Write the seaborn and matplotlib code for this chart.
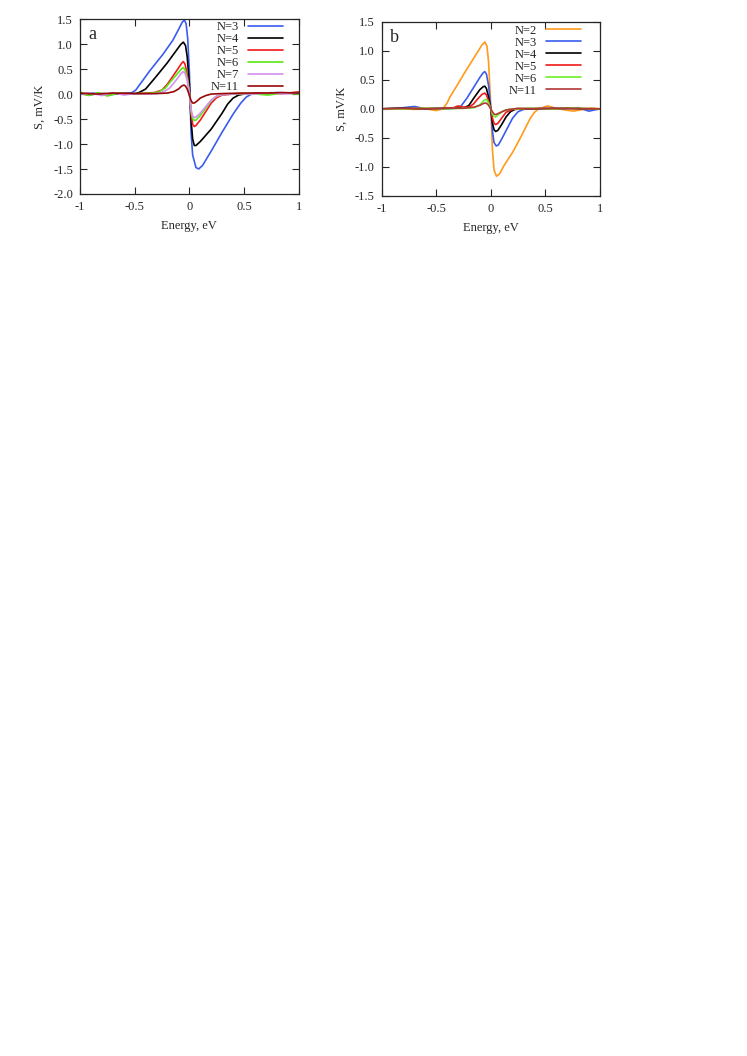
import numpy as np
import pandas as pd
import matplotlib
matplotlib.use('Agg')
import matplotlib.pyplot as plt
import seaborn as sns

sns.set_style('ticks')
plt.rcParams['font.family'] = ['Liberation Serif', 'DejaVu Serif']
plt.rcParams['xtick.direction'] = 'in'
plt.rcParams['ytick.direction'] = 'in'

# ---- panel a: key points ----
a_x3 = [-1, -0.88, -0.75, -0.62, -0.53, -0.49, -0.45, -0.36, -0.24, -0.15, -0.09, -0.065, -0.045, -0.03, -0.015, 0.0, 0.015, 0.03, 0.06, 0.085, 0.12, 0.2, 0.3, 0.4, 0.47, 0.52, 0.56, 0.62, 0.7, 0.8, 0.9, 1]
a_y3 = [0.0, 0.02, -0.02, 0.01, 0.02, 0.08, 0.2, 0.47, 0.8, 1.08, 1.33, 1.44, 1.48, 1.41, 1.11, 0.45, -0.75, -1.22, -1.47, -1.5, -1.43, -1.14, -0.76, -0.4, -0.18, -0.06, -0.01, 0.02, 0.01, 0.03, 0.02, 0.03]
a_x4 = [-1, -0.9, -0.8, -0.7, -0.6, -0.5, -0.46, -0.4, -0.3, -0.2, -0.12, -0.08, -0.055, -0.035, -0.02, 0.0, 0.015, 0.03, 0.045, 0.06, 0.1, 0.2, 0.3, 0.35, 0.4, 0.45, 0.5, 0.6, 0.7, 0.85, 1]
a_y4 = [0.0, -0.01, 0.01, 0.0, 0.01, 0.01, 0.03, 0.1, 0.36, 0.63, 0.87, 0.99, 1.04, 0.97, 0.75, 0.2, -0.5, -0.9, -1.03, -1.03, -0.95, -0.7, -0.38, -0.2, -0.08, -0.02, 0.0, 0.01, 0.01, 0.02, 0.03]
a_x5 = [-1, -0.92, -0.84, -0.76, -0.68, -0.6, -0.5, -0.4, -0.32, -0.25, -0.2, -0.15, -0.1, -0.07, -0.055, -0.04, -0.02, 0.0, 0.015, 0.03, 0.045, 0.06, 0.1, 0.15, 0.2, 0.25, 0.3, 0.4, 0.55, 0.7, 0.85, 0.95, 1]
a_y5 = [0.02, -0.02, 0.02, -0.02, 0.01, 0.01, 0.0, 0.02, 0.03, 0.08, 0.2, 0.36, 0.52, 0.62, 0.65, 0.6, 0.4, 0.05, -0.4, -0.6, -0.65, -0.63, -0.52, -0.35, -0.18, -0.07, -0.02, 0.0, 0.01, 0.02, 0.01, 0.03, 0.04]
a_x6 = [-1, -0.92, -0.83, -0.75, -0.65, -0.55, -0.45, -0.35, -0.28, -0.22, -0.16, -0.1, -0.07, -0.055, -0.04, -0.02, 0.0, 0.015, 0.03, 0.045, 0.06, 0.1, 0.15, 0.2, 0.25, 0.3, 0.45, 0.6, 0.72, 0.85, 1]
a_y6 = [0.04, -0.03, 0.03, -0.04, 0.02, 0.0, 0.01, 0.02, 0.04, 0.12, 0.28, 0.43, 0.51, 0.53, 0.49, 0.32, 0.03, -0.33, -0.49, -0.53, -0.52, -0.43, -0.28, -0.13, -0.04, -0.01, 0.01, 0.0, -0.02, 0.02, 0.0]
a_x7 = [-1, -0.9, -0.8, -0.7, -0.6, -0.5, -0.4, -0.3, -0.24, -0.18, -0.12, -0.08, -0.055, -0.04, -0.02, 0.0, 0.015, 0.03, 0.045, 0.06, 0.1, 0.15, 0.2, 0.25, 0.3, 0.45, 0.6, 0.75, 0.85, 1]
a_y7 = [0.0, 0.02, -0.03, 0.03, -0.02, 0.01, 0.0, 0.01, 0.04, 0.12, 0.28, 0.4, 0.45, 0.42, 0.28, 0.02, -0.3, -0.44, -0.47, -0.46, -0.38, -0.25, -0.12, -0.04, -0.01, 0.01, 0.0, 0.03, 0.0, 0.02]
a_x11 = [-1, -0.85, -0.7, -0.5, -0.3, -0.2, -0.14, -0.1, -0.07, -0.05, -0.035, -0.02, 0.0, 0.015, 0.03, 0.045, 0.07, 0.1, 0.15, 0.2, 0.3, 0.5, 0.7, 0.85, 1]
a_y11 = [0.02, 0.0, 0.02, 0.01, 0.01, 0.02, 0.05, 0.1, 0.16, 0.18, 0.16, 0.1, -0.02, -0.13, -0.18, -0.18, -0.14, -0.08, -0.03, 0.0, 0.01, 0.02, 0.02, 0.03, 0.02]

# ---- panel b ----
b_x2 = [-1, -0.85, -0.7, -0.6, -0.5, -0.44, -0.4, -0.376, -0.3, -0.25, -0.18, -0.13, -0.08, -0.055, -0.035, -0.02, 0.0, 0.015, 0.03, 0.052, 0.08, 0.12, 0.2, 0.28, 0.36, 0.4, 0.44, 0.52, 0.6, 0.68, 0.76, 0.85, 0.92, 1]
b_y2 = [0.0, 0.01, -0.01, 0.0, -0.03, 0.0, 0.1, 0.2, 0.43, 0.59, 0.8, 0.95, 1.1, 1.15, 1.08, 0.8, 0.05, -0.7, -1.05, -1.16, -1.12, -0.98, -0.75, -0.47, -0.17, -0.06, 0.0, 0.05, 0.01, -0.02, -0.04, -0.01, 0.01, 0.0]
b_x3 = [-1, -0.85, -0.7, -0.6, -0.5, -0.4, -0.32, -0.28, -0.22, -0.16, -0.1, -0.07, -0.055, -0.04, -0.02, 0.0, 0.015, 0.03, 0.05, 0.07, 0.1, 0.15, 0.2, 0.25, 0.3, 0.35, 0.5, 0.65, 0.8, 0.9, 1]
b_y3 = [0.0, 0.01, 0.04, 0.0, 0.01, 0.0, 0.01, 0.03, 0.18, 0.36, 0.54, 0.62, 0.64, 0.6, 0.4, 0.02, -0.38, -0.58, -0.64, -0.62, -0.52, -0.34, -0.16, -0.05, -0.01, 0.0, 0.01, 0.0, 0.02, -0.04, 0.0]
b_x4 = [-1, -0.8, -0.6, -0.4, -0.3, -0.24, -0.2, -0.15, -0.1, -0.07, -0.055, -0.04, -0.02, 0.0, 0.015, 0.03, 0.045, 0.065, 0.1, 0.14, 0.18, 0.22, 0.3, 0.5, 0.7, 0.85, 1]
b_y4 = [0.0, 0.01, 0.0, 0.01, 0.02, 0.02, 0.06, 0.2, 0.33, 0.38, 0.39, 0.35, 0.2, 0.0, -0.24, -0.36, -0.39, -0.37, -0.27, -0.14, -0.05, -0.01, 0.0, 0.0, 0.01, 0.0, 0.0]
b_x5 = [-1, -0.8, -0.6, -0.45, -0.34, -0.3, -0.26, -0.2, -0.16, -0.12, -0.08, -0.055, -0.04, -0.02, 0.0, 0.015, 0.03, 0.045, 0.065, 0.1, 0.14, 0.2, 0.3, 0.45, 0.6, 0.8, 1]
b_y5 = [0.0, 0.0, 0.01, 0.0, 0.02, 0.05, 0.03, 0.03, 0.08, 0.17, 0.25, 0.27, 0.24, 0.13, 0.0, -0.16, -0.25, -0.27, -0.25, -0.16, -0.06, -0.01, 0.0, 0.01, 0.0, 0.01, 0.0]
b_x6 = [-1, -0.8, -0.6, -0.4, -0.25, -0.15, -0.1, -0.07, -0.05, -0.035, -0.02, 0.0, 0.015, 0.03, 0.045, 0.07, 0.11, 0.16, 0.25, 0.35, 0.55, 0.75, 1]
b_y6 = [0.0, 0.0, 0.01, 0.0, 0.01, 0.02, 0.07, 0.13, 0.16, 0.15, 0.1, 0.0, -0.09, -0.13, -0.14, -0.1, -0.04, -0.01, 0.0, 0.01, 0.0, 0.01, 0.0]
b_x11 = [-1, -0.8, -0.6, -0.4, -0.25, -0.15, -0.1, -0.07, -0.05, -0.035, -0.02, 0.0, 0.015, 0.03, 0.045, 0.08, 0.14, 0.25, 0.4, 0.6, 0.8, 1]
b_y11 = [0.0, 0.01, 0.0, 0.01, 0.01, 0.03, 0.06, 0.09, 0.1, 0.09, 0.06, 0.0, -0.05, -0.09, -0.1, -0.07, -0.02, 0.01, 0.0, 0.01, 0.0, 0.0]

a_series = [('N=3', a_x3, a_y3), ('N=4', a_x4, a_y4), ('N=5', a_x5, a_y5),
            ('N=6', a_x6, a_y6), ('N=7', a_x7, a_y7), ('N=11', a_x11, a_y11)]
b_series = [('N=2', b_x2, b_y2), ('N=3', b_x3, b_y3), ('N=4', b_x4, b_y4),
            ('N=5', b_x5, b_y5), ('N=6', b_x6, b_y6), ('N=11', b_x11, b_y11)]

colors_a = {'N=3': '#3a5cf0', 'N=4': '#000000', 'N=5': '#f01a1a',
            'N=6': '#5ce61a', 'N=7': '#d690f0', 'N=11': '#980808'}
colors_b = {'N=2': '#ff9a1a', 'N=3': '#3a5cf0', 'N=4': '#000000', 'N=5': '#f01a1a',
            'N=6': '#6cf02a', 'N=11': '#b03838'}


def make_df(series):
    parts = [pd.DataFrame({'E': x, 'S': y, 'N': name}) for name, x, y in series]
    return pd.concat(parts, ignore_index=True)


fig = plt.figure(figsize=(7.47, 10.56), dpi=100)
ax_a = fig.add_axes([0.107, 0.8163, 0.293, 0.1656])
ax_b = fig.add_axes([0.511, 0.8144, 0.292, 0.1651])

panels = [(ax_a, a_series, colors_a, 'a', (-2.0, 1.5), (0.955, 1.025)),
          (ax_b, b_series, colors_b, 'b', (-1.5, 1.5), (0.94, 1.018))]
for ax, series, pal, letter, ylim, anchor in panels:
    df = make_df(series)
    order = [s[0] for s in series]
    sns.lineplot(data=df, x='E', y='S', hue='N', hue_order=order,
                 palette=pal, linewidth=1.2, ax=ax, estimator=None)
    ax.set_xlim(-1, 1)
    ax.set_ylim(*ylim)
    ax.set_xticks([-1, -0.5, 0, 0.5, 1])
    ax.set_xticklabels(['-1', '-0.5', '0', '0.5', '1'])
    yt = np.arange(ylim[0], ylim[1] + 0.01, 0.5)
    ax.set_yticks(yt)
    ax.set_yticklabels([f'{v:.1f}' for v in yt])
    ax.tick_params(top=True, right=True, labelsize=9, length=5, width=0.8, pad=5)
    for sp in ax.spines.values():
        sp.set_linewidth(0.9)
    ax.set_xlabel('Energy, eV', fontsize=9, labelpad=5)
    ax.set_ylabel('S, mV/K', fontsize=9, labelpad=5)
    ax.text(0.04, 0.96, letter, transform=ax.transAxes, fontsize=13,
            va='top', ha='left')
    ax.legend(loc='upper right', bbox_to_anchor=anchor, frameon=False,
              markerfirst=False, fontsize=9, handlelength=2.8,
              labelspacing=0.0, borderaxespad=0.2, borderpad=0.3,
              handletextpad=0.7)

fig.savefig('out.png', dpi=100)
